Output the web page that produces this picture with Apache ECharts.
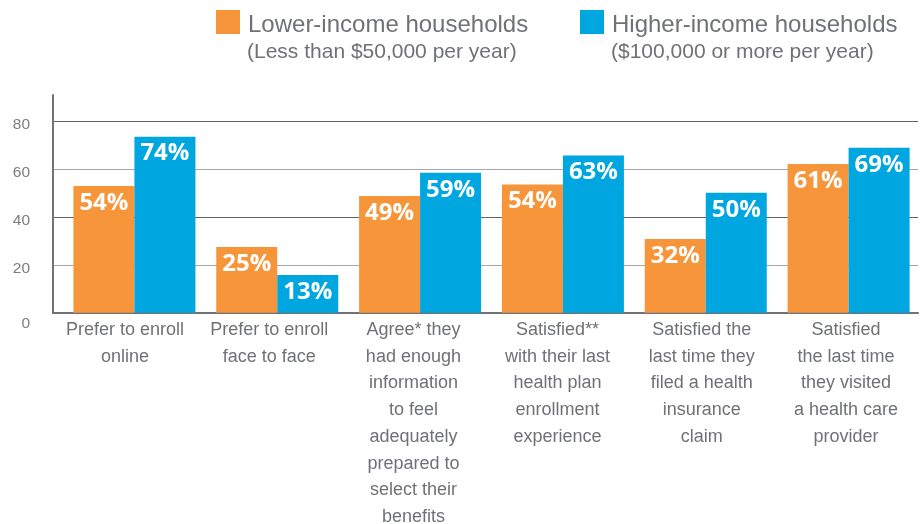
<!DOCTYPE html>
<html>
<head>
<meta charset="utf-8">
<script src="https://cdn.jsdelivr.net/npm/echarts@6/dist/echarts.min.js"></script>
<style>
html,body{margin:0;padding:0;background:#fff;}
#chart{width:920px;height:524px;}
</style>
</head>
<body>
<div id="chart"></div>
<script>
// Categories (line breaks as in the reference)
const categories = [
  'Prefer to enroll\nonline',
  'Prefer to enroll\nface to face',
  'Agree* they\nhad enough\ninformation\nto feel\nadequately\nprepared to\nselect their\nbenefits',
  'Satisfied**\nwith their last\nhealth plan\nenrollment\nexperience',
  'Satisfied the\nlast time they\nfiled a health\ninsurance\nclaim',
  'Satisfied\nthe last time\nthey visited\na health care\nprovider'
];
// Series names and legend subtitles
const lowerName = 'Lower-income households';
const higherName = 'Higher-income households';
const lowerSub = '(Less than $50,000 per year)';
const higherSub = '($100,000 or more per year)';
// Printed percentages
const lowerPct = [54, 25, 49, 54, 32, 61];
const higherPct = [74, 13, 59, 63, 50, 69];
// Bar heights as drawn in the picture
const lowerBar = [53, 27.5, 48.8, 53.6, 30.8, 62.2];
const higherBar = [73.6, 15.8, 58.5, 65.7, 50.1, 68.9];
// Y axis
const yMin = 0, yMax = 91, yStep = 20;

const orange = '#F7953B';
const blue = '#00A6DF';
const textGray = '#6f7176';
const font = 'Liberation Sans';

const chart = echarts.init(document.getElementById('chart'), null, {renderer: 'canvas'});

function barLabel(pcts) {
  return {
    show: true,
    position: 'insideTop',
    distance: 5,
    color: '#ffffff',
    fontFamily: 'Open Sans',
    fontWeight: 700,
    fontSize: 24,
    formatter: p => pcts[p.dataIndex] + '%'
  };
}

function legendCfg(name, left) {
  return {
    data: [name], left: left, top: 10, padding: 0, icon: 'rect',
    itemWidth: 24, itemHeight: 24, itemGap: 0, selectedMode: false,
    formatter: n => '{t|' + n + '}',
    textStyle: {
      fontFamily: font, fontSize: 24, color: textGray,
      rich: {t: {fontFamily: font, fontSize: 24, color: textGray, padding: [6, 0, 0, 3]}}
    }
  };
}

chart.setOption({
  animation: false,
  backgroundColor: '#ffffff',
  title: [
    {text: lowerSub, left: 247, top: 42, padding: 0,
     textStyle: {fontFamily: font, fontSize: 21, fontWeight: 'normal', color: textGray}},
    {text: higherSub, left: 611, top: 42, padding: 0,
     textStyle: {fontFamily: font, fontSize: 21, fontWeight: 'normal', color: textGray}}
  ],
  legend: [legendCfg(lowerName, 216), legendCfg(higherName, 580)],
  grid: [
    {left: 53, right: 2, top: 95, bottom: 211.3, containLabel: false, outerBoundsMode: 'none'},
    {left: 63, right: 0, top: 95, bottom: 211.3, containLabel: false, outerBoundsMode: 'none'}
  ],
  xAxis: [
    {type: 'category', gridIndex: 0, data: categories,
     axisTick: {show: false},
     axisLine: {show: true, lineStyle: {color: '#707277', width: 2}},
     axisLabel: {interval: 0, margin: 4, fontFamily: font, fontSize: 18,
                 lineHeight: 26.7, color: textGray, align: 'center'}},
    {type: 'category', gridIndex: 1, data: categories, show: false}
  ],
  yAxis: [
    {type: 'value', gridIndex: 0, min: yMin, max: yMax, interval: yStep,
     axisLine: {show: true, lineStyle: {color: '#707277', width: 2}},
     axisTick: {show: false},
     axisLabel: {showMaxLabel: false, margin: 23, fontFamily: font, fontSize: 15.5, color: '#7b7d81',
       formatter: v => (v === 0 ? '{z|0}' : (v % yStep === 0 ? '{a|' + v + '}' : '')),
       rich: {
         a: {fontFamily: font, fontSize: 15.5, color: '#7b7d81', padding: [7, 0, 0, 0]},
         z: {fontFamily: font, fontSize: 15.5, color: '#7b7d81', padding: [23, 0, 0, 0]}
       }},
     splitLine: {show: true, showMaxLine: false,
       lineStyle: {color: ['#5f6165', '#a6a7aa'], width: 1}}},
    {type: 'value', gridIndex: 1, min: yMin, max: yMax, interval: yStep, show: false,
     splitLine: {show: false}}
  ],
  series: [
    {name: lowerName, type: 'bar', xAxisIndex: 1, yAxisIndex: 1, data: lowerBar,
     barWidth: 61, barGap: '0%', itemStyle: {color: orange}, label: barLabel(lowerPct)},
    {name: higherName, type: 'bar', xAxisIndex: 1, yAxisIndex: 1, data: higherBar,
     barWidth: 61, barGap: '0%', itemStyle: {color: blue}, label: barLabel(higherPct)}
  ]
});
</script>
</body>
</html>
